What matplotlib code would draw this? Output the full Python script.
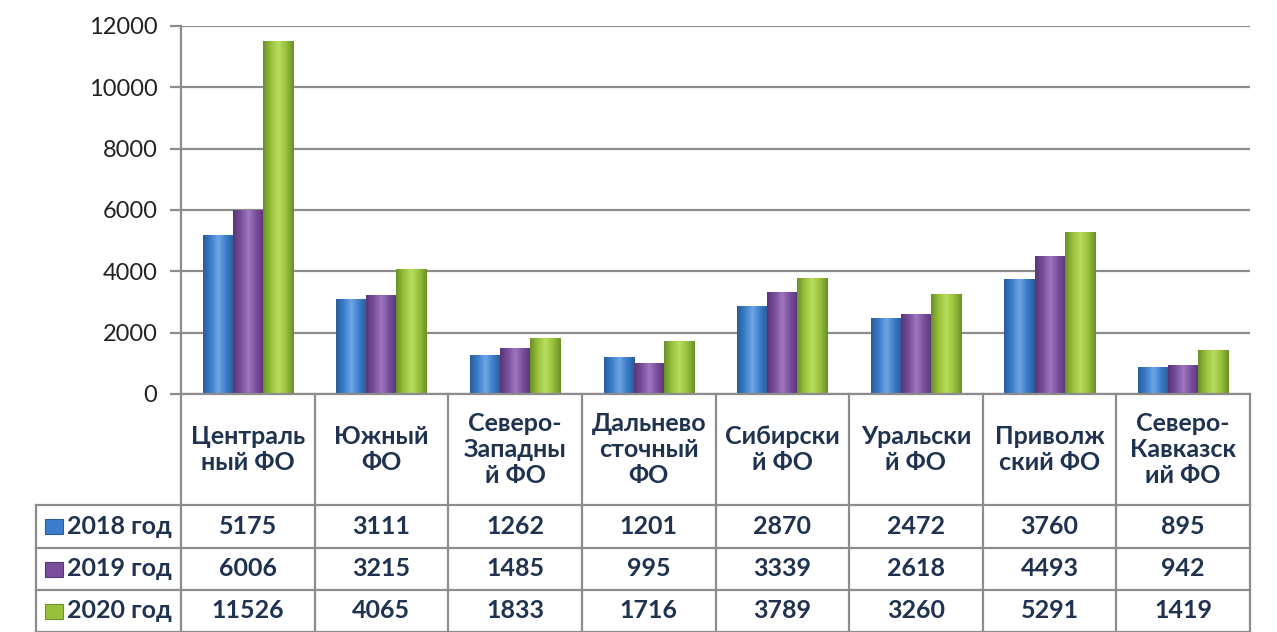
import matplotlib.pyplot as plt
import matplotlib.transforms as mtransforms
from matplotlib.patches import Rectangle
from matplotlib.colors import LinearSegmentedColormap
import numpy as np

# data
districts = ["Централь\nный ФО", "Южный\nФО", "Северо-\nЗападны\nй ФО", "Дальнево\nсточный\nФО",
             "Сибирски\nй ФО", "Уральски\nй ФО", "Приволж\nский ФО", "Северо-\nКавказск\nий ФО"]
series_names = ["2018 год", "2019 год", "2020 год"]
values_2018 = [5175, 3111, 1262, 1201, 2870, 2472, 3760, 895]
values_2019 = [6006, 3215, 1485, 995, 3339, 2618, 4493, 942]
values_2020 = [11526, 4065, 1833, 1716, 3789, 3260, 5291, 1419]
series_values = [values_2018, values_2019, values_2020]
colors = ["#3B7DCB", "#7A4E9C", "#98C13B"]
light_colors = ["#6FA6E6", "#9E76C0", "#BADD5E"]
dark_colors = ["#2A5C9A", "#583676", "#6C9027"]

plt.rcParams['font.family'] = ['Lato', 'DejaVu Sans']
text_color = "#1F3350"
grid_color = "#8C8C8C"

W, H = 1277, 632
fig = plt.figure(figsize=(W / 100, H / 100), dpi=100)
left, right, top, bottom = 181, 1250, 26, 394
ax = fig.add_axes([left / W, 1 - bottom / H, (right - left) / W, (bottom - top) / H])

n = len(districts)
x = np.arange(n)
bar_w = 0.225
grad = np.linspace(0, 1, 64).reshape(1, -1)
for k, vals in enumerate(series_values):
    cmap = LinearSegmentedColormap.from_list(
        "c%d" % k, [dark_colors[k], colors[k], light_colors[k], colors[k], dark_colors[k]])
    bars = ax.bar(x + (k - 1) * bar_w, vals, width=bar_w, color=colors[k],
                  edgecolor='none', zorder=3)
    for b in bars:
        bx, by = b.get_x(), b.get_y()
        im = ax.imshow(grad, cmap=cmap, aspect='auto', zorder=4,
                       extent=[bx, bx + b.get_width(), by, by + b.get_height()])
        im.set_clip_path(b)

ax.set_xlim(-0.5, n - 0.5)
ax.set_ylim(0, 12000)
ax.set_yticks(range(0, 12001, 2000))
ax.yaxis.grid(True, color=grid_color, linewidth=1.6, zorder=0)
ax.tick_params(axis='y', length=8, width=1.6, color=grid_color, labelsize=17,
               labelcolor="#222222", pad=9)
ax.tick_params(axis='x', bottom=False, labelbottom=False)
for side in ["top", "right", "bottom"]:
    ax.spines[side].set_visible(False)
ax.spines["left"].set_color(grid_color)
ax.spines["left"].set_linewidth(1.6)

# data table under the axes
trans = mtransforms.blended_transform_factory(ax.transData, ax.transAxes)
h_px = bottom - top
def yf(py):
    return -(py - bottom) / h_px

header_bot = yf(505)
row_lines = [yf(505), yf(548), yf(590), yf(632)]
label_left = -0.5 - (left - 36) / ((right - left) / n)

line_kw = dict(color=grid_color, linewidth=1.6, transform=trans, clip_on=False)
for i in range(n + 1):
    ax.plot([i - 0.5, i - 0.5], [0, row_lines[-1]], **line_kw)
for yl in row_lines:
    ax.plot([label_left, n - 0.5], [yl, yl], **line_kw)
ax.plot([label_left, label_left], [row_lines[0], row_lines[-1]], **line_kw)
ax.axhline(0, color=grid_color, linewidth=1.6, zorder=5, clip_on=False)

for i, name in enumerate(districts):
    ax.text(i, header_bot / 2, name, transform=trans, ha='center', va='center',
            fontsize=18, fontweight='bold', color=text_color, linespacing=1.15)

for r, (sname, vals) in enumerate(zip(series_names, series_values)):
    yc = (row_lines[r] + row_lines[r + 1]) / 2
    for i, v in enumerate(vals):
        ax.text(i, yc, str(v), transform=trans, ha='center', va='center',
                fontsize=18, fontweight='bold', color=text_color)
    sq_w = 18 / ((right - left) / n)
    sq_h = 15 / h_px
    ax.add_patch(Rectangle((label_left + 0.07, yc - sq_h / 2), sq_w, sq_h, transform=trans,
                           facecolor=colors[r], edgecolor=dark_colors[r], linewidth=0.8,
                           clip_on=False))
    ax.text(label_left + 0.235, yc, sname, transform=trans, ha='left', va='center',
            fontsize=18, fontweight='bold', color=text_color)

fig.savefig("out.png", dpi=100)
